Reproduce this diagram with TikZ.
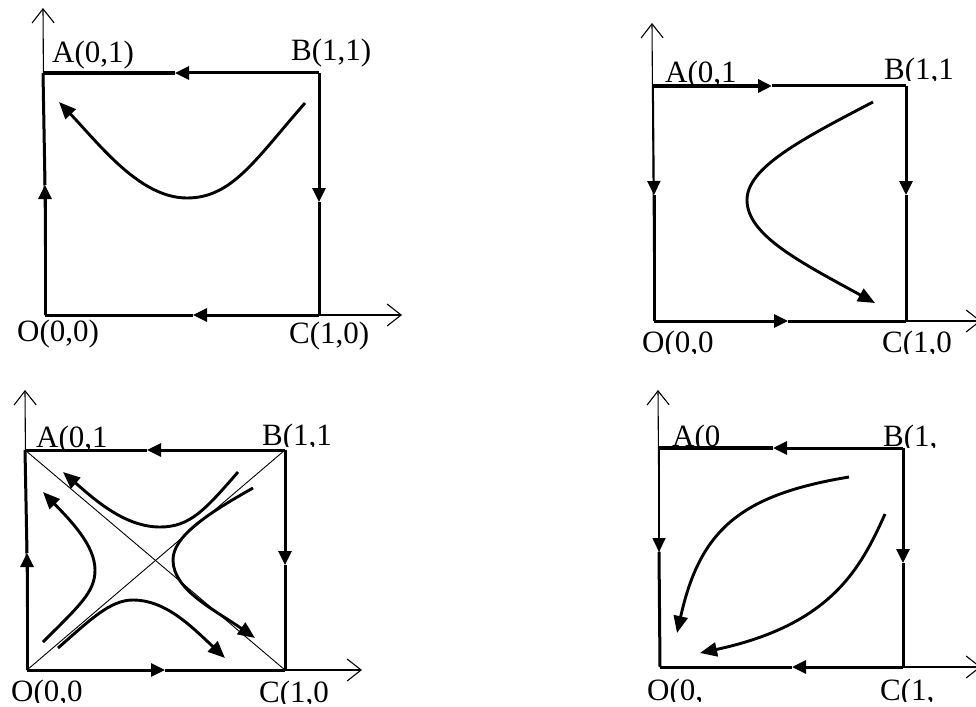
\documentclass[tikz,border=0pt]{standalone}
\usepackage{fontspec}
\setmainfont{Liberation Serif}
\usetikzlibrary{arrows.meta}
\tikzset{
  edge/.style={line width=3pt, line cap=butt},
  thickedge/.style={line width=4.2pt},
  thinedge/.style={line width=1.7pt},
  axis/.style={line width=1.1pt, -{Straight Barb[length=14pt,width=22pt]}},
  diag/.style={line width=0.9pt},
  curve/.style={line width=2.9pt, -{Triangle[length=17pt,width=14pt]}},
  tri/.style={-{Triangle[length=14pt,width=13pt]}},
  lbl/.style={font=\fontsize{31}{33}\selectfont, inner sep=0pt, anchor=base west}
}
\begin{document}
\begin{tikzpicture}[x=1pt,y=-1pt]
\useasboundingbox (0,0) rectangle (976,706);
% ---------- panel 1 ----------
\coordinate (O1) at (45,315); \coordinate (A1) at (43,73);
\coordinate (B1) at (319,73); \coordinate (C1) at (319,315);
\coordinate (Y1) at (43,8);   \coordinate (X1) at (402,315);
\coordinate (t1) at (175,73); \coordinate (r1) at (319,202);
\coordinate (b1) at (193,315); \coordinate (l1) at (45,185);
\draw[axis] (O1) -- (Y1);
\draw[axis] (C1) -- (X1);
\draw[edge,tri] (B1) -- (t1); \draw[thickedge] (t1) -- (A1);
\draw[edge,tri] (B1) -- (r1); \draw[edge] (r1) -- (C1);
\draw[edge,tri] (C1) -- (b1); \draw[edge] (b1) -- (O1);
\draw[edge,tri] (O1) -- (l1); \draw[edge] (l1) -- (A1);
\coordinate (p1s) at (305,103); \coordinate (p1m) at (187,198); \coordinate (p1e) at (59,102);
\draw[curve] (p1s) .. controls (255,160) and (232,198) .. (p1m) .. controls (140,198) and (100,145) .. (p1e);
\node[lbl] (LA1) at (52,63) {A(0,1)};
\node[lbl] (LB1) at (291,61) {B(1,1)};
\node[lbl] (LO1) at (17,341) {O(0,0)};
\node[lbl] (LC1) at (289,343) {C(1,0)};
% ---------- panel 2 ----------
\coordinate (O2) at (654,321); \coordinate (A2) at (653,86);
\coordinate (B2) at (906,86);  \coordinate (C2) at (906,321);
\coordinate (Y2) at (652,23);  \coordinate (X2) at (981,321);
\coordinate (t2) at (772,86);  \coordinate (r2) at (906,195);
\coordinate (b2) at (788,321); \coordinate (l2) at (654,195);
\draw[axis] (O2) -- (Y2);
\draw[axis] (C2) -- (X2);
\begin{scope}
\clip (640,40) rectangle (760,84);
\node[lbl] (LA2) at (665,83) {A(0,1};
\end{scope}
\begin{scope}
\clip (870,40) rectangle (976,81);
\node[lbl] (LB2) at (884,80) {B(1,1};
\end{scope}
\begin{scope}
\clip (630,325) rectangle (740,353);
\node[lbl] (LO2) at (642,352) {O(0,0};
\end{scope}
\begin{scope}
\clip (870,325) rectangle (976,353);
\node[lbl] (LC2) at (882,352) {C(1,0};
\end{scope}
\draw[thickedge,tri] (A2) -- (t2); \draw[edge] (t2) -- (B2);
\draw[edge,tri] (B2) -- (r2); \draw[edge] (r2) -- (C2);
\draw[edge,tri] (O2) -- (b2); \draw[edge] (b2) -- (C2);
\draw[thinedge,tri] (A2) -- (l2); \draw[edge] (l2) -- (O2);
\coordinate (p2s) at (873,102); \coordinate (p2m) at (747,200); \coordinate (p2e) at (875,303);
\draw[curve] (p2s) .. controls (800,140) and (747,168) .. (p2m) .. controls (747,235) and (800,262) .. (p2e);
% ---------- panel 3 ----------
\coordinate (O3) at (27,670); \coordinate (A3) at (25,450);
\coordinate (B3) at (285,450); \coordinate (C3) at (285,670);
\coordinate (Y3) at (25,390);  \coordinate (X3) at (362,670);
\coordinate (t3) at (147,450); \coordinate (r3) at (285,565);
\coordinate (b3) at (165,670); \coordinate (l3) at (27,553);
\draw[axis] (O3) -- (Y3);
\draw[axis] (C3) -- (X3);
\begin{scope}
\clip (20,405) rectangle (120,448);
\node[lbl] (LA3) at (36,447) {A(0,1};
\end{scope}
\begin{scope}
\clip (255,405) rectangle (350,446);
\node[lbl] (LB3) at (262,445) {B(1,1};
\end{scope}
\begin{scope}
\clip (0,674) rectangle (100,702);
\node[lbl] (LO3) at (11,701) {O(0,0};
\end{scope}
\begin{scope}
\clip (250,674) rectangle (350,703);
\node[lbl] (LC3) at (259,702) {C(1,0};
\end{scope}
\draw[diag] (A3) -- (C3);
\draw[diag] (O3) -- (B3);
\draw[edge,tri] (B3) -- (t3); \draw[edge] (t3) -- (A3);
\draw[edge,tri] (B3) -- (r3); \draw[edge] (r3) -- (C3);
\draw[edge,tri] (O3) -- (b3); \draw[edge] (b3) -- (C3);
\draw[edge,tri] (O3) -- (l3); \draw[edge] (l3) -- (A3);
\draw[curve] (238,472) .. controls (205,510) and (190,527) .. (160,527) .. controls (125,527) and (95,500) .. (63,472);
\draw[curve] (43,642) .. controls (80,605) and (95,592) .. (95,570) .. controls (95,545) and (70,520) .. (43,492);
\draw[curve] (253,488) .. controls (205,515) and (173,537) .. (173,560) .. controls (173,590) and (215,610) .. (255,638);
\draw[curve] (58,648) .. controls (90,620) and (110,600) .. (133,600) .. controls (165,600) and (190,625) .. (225,658);
% ---------- panel 4 ----------
\coordinate (O4) at (660,667); \coordinate (A4) at (659,448);
\coordinate (B4) at (903,448); \coordinate (C4) at (903,667);
\coordinate (Y4) at (658,390); \coordinate (X4) at (981,667);
\coordinate (t4) at (773,448); \coordinate (r4) at (903,563);
\coordinate (b4) at (792,667); \coordinate (l4) at (659,552);
\draw[axis] (O4) -- (Y4);
\draw[axis] (C4) -- (X4);
\begin{scope}
\clip (660,405) rectangle (721,446);
\node[lbl] (LA4) at (672,446) {A(0};
\end{scope}
\begin{scope}
\clip (875,405) rectangle (940,447);
\node[lbl] (LB4) at (883,446) {B(1,};
\end{scope}
\begin{scope}
\clip (640,672) rectangle (705,701);
\node[lbl] (LO4) at (647,700) {O(0,};
\end{scope}
\begin{scope}
\clip (870,672) rectangle (940,701);
\node[lbl] (LC4) at (880,700) {C(1,};
\end{scope}
\draw[edge,tri] (B4) -- (t4); \draw[thickedge] (t4) -- (A4);
\draw[edge,tri] (B4) -- (r4); \draw[edge] (r4) -- (C4);
\draw[edge,tri] (C4) -- (b4); \draw[edge] (b4) -- (O4);
\draw[thinedge,tri] (A4) -- (l4); \draw[edge] (l4) -- (O4);
\draw[curve] (849,477) .. controls (740,495) and (700,530) .. (677,633);
\draw[curve] (885,514) .. controls (860,570) and (830,625) .. (700,653);
\end{tikzpicture}
\end{document}
